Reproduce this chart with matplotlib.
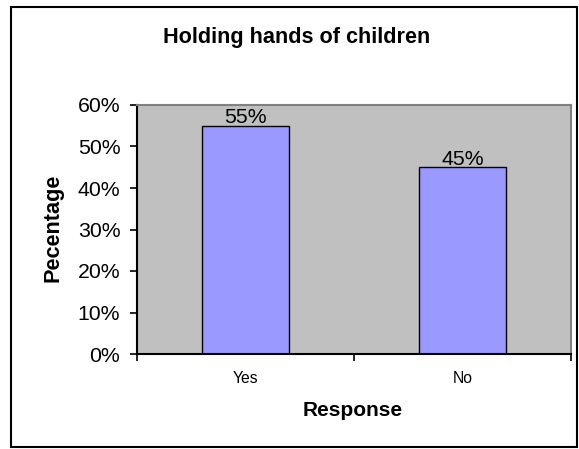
import matplotlib.pyplot as plt
from matplotlib.patches import Rectangle
from matplotlib.ticker import FuncFormatter

plt.rcParams['font.family'] = ['Liberation Sans', 'DejaVu Sans']

# Data
responses = ['Yes', 'No']
percentages = [55, 45]
y_ticks = [0, 10, 20, 30, 40, 50, 60]

fig = plt.figure(figsize=(5.79, 4.49), dpi=100)

# Outer chart border
fig.patches.append(Rectangle((11 / 579, 1 - 447 / 449), 566 / 579, 440 / 449,
                             transform=fig.transFigure, fill=False,
                             edgecolor='black', linewidth=1.5))

ax = fig.add_axes([137 / 579, 1 - 354 / 449, 434 / 579, 249 / 449])
ax.set_facecolor('#C0C0C0')

x = list(range(len(responses)))
bars = ax.bar(x, percentages, width=0.4, color='#9999FF', edgecolor='black', linewidth=1)

for xi, v in zip(x, percentages):
    ax.annotate(f'{v}%', (xi, v), xytext=(0, -1), textcoords='offset points',
                ha='center', va='bottom', fontsize=15.3)

ax.set_xlim(-0.5, len(responses) - 0.5)
ax.set_ylim(0, 60)
ax.set_yticks(y_ticks)
ax.yaxis.set_major_formatter(FuncFormatter(lambda v, p: f'{v:.0f}%'))
ax.tick_params(axis='y', direction='out', length=5, width=1.2, labelsize=15.3, pad=7)

# category boundary ticks, labels at category centres
ax.set_xticks([i - 0.5 for i in range(len(responses) + 1)])
ax.set_xticklabels([])
ax.set_xticks(x, minor=True)
ax.set_xticklabels(responses, minor=True, fontsize=11.3)
ax.tick_params(axis='x', which='major', direction='out', length=5, width=1.2)
ax.tick_params(axis='x', which='minor', length=0, pad=12)

for s in ['left', 'bottom']:
    ax.spines[s].set_color('black')
    ax.spines[s].set_linewidth(1.5)
for s in ['top', 'right']:
    ax.spines[s].set_color('#808080')
    ax.spines[s].set_linewidth(1.5)

fig.text(297 / 579, 1 - 38 / 449, 'Holding hands of children', ha='center', va='center',
         fontsize=15.6, fontweight='bold')
fig.text(53 / 579, 1 - 228 / 449, 'Pecentage', ha='center', va='center', rotation=90,
         fontsize=15.6, fontweight='bold')
fig.text(353 / 579, 1 - 410 / 449, 'Response', ha='center', va='center',
         fontsize=15, fontweight='bold')

fig.savefig('out.png', dpi=100)
